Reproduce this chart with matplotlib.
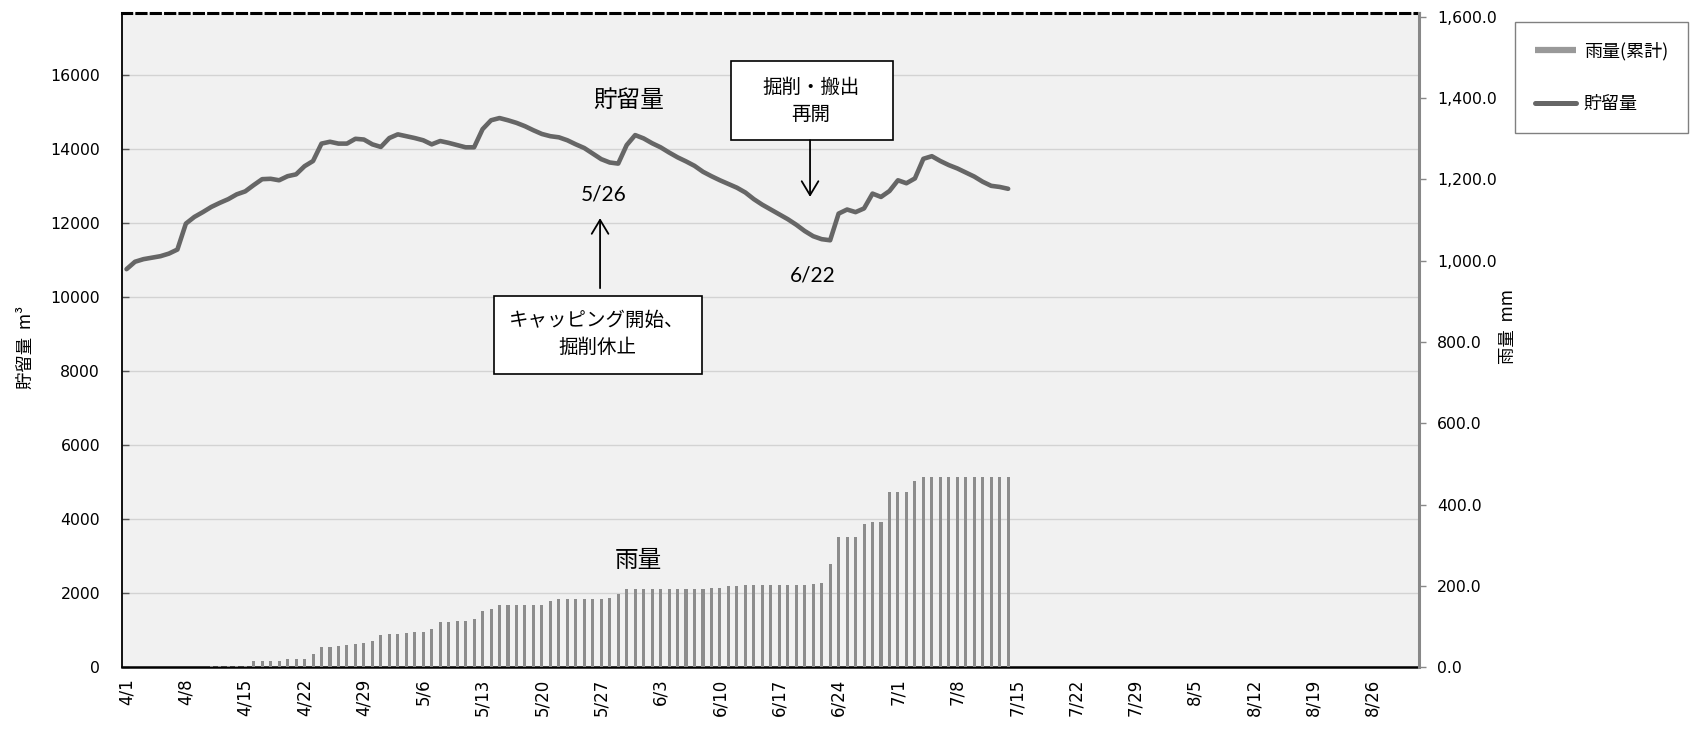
import numpy as np
import matplotlib
matplotlib.use("Agg")
import matplotlib.pyplot as plt
from matplotlib.lines import Line2D
from matplotlib.patches import Rectangle
from matplotlib.ticker import FuncFormatter

plt.rcParams["font.family"] = ["Noto Sans CJK JP", "DejaVu Sans"]

# axis runs 4/1 .. 8/31, one category per day
n_days = 153
tick_labels = ["4/1", "4/8", "4/15", "4/22", "4/29", "5/6", "5/13", "5/20", "5/27",
               "6/3", "6/10", "6/17", "6/24", "7/1", "7/8", "7/15", "7/22", "7/29",
               "8/5", "8/12", "8/19", "8/26"]

# 貯留量 (m3), daily from 4/1
storage = [10750, 10950, 11020, 11060, 11100, 11170, 11280, 11980, 12160, 12290,
           12430, 12540, 12640, 12770, 12850, 13020, 13180, 13190, 13150, 13260,
           13310, 13530, 13670, 14140, 14190, 14140, 14140, 14270, 14250, 14120,
           14050, 14290, 14390, 14340, 14290, 14230, 14120, 14210, 14160, 14100,
           14040, 14040, 14530, 14770, 14830, 14770, 14700, 14610, 14500, 14400,
           14340, 14310, 14230, 14120, 14020, 13870, 13720, 13630, 13600, 14100,
           14370, 14280, 14150, 14040, 13900, 13770, 13660, 13540, 13380, 13260,
           13150, 13050, 12950, 12820, 12640, 12490, 12360, 12230, 12100, 11950,
           11780, 11640, 11560, 11530, 12250, 12360, 12290, 12390, 12790, 12700,
           12860, 13150, 13070, 13200, 13730, 13800, 13670, 13560, 13470, 13360,
           13250, 13110, 13000, 12970, 12920]

# 雨量 累計 (mm), daily from 4/1
rain_cum = [0, 0, 0, 0, 0, 0, 0, 0, 1, 1,
            2, 2, 2.5, 2.5, 2.5, 15, 15, 15, 15, 20,
            20, 20, 33, 51, 51, 52.5, 55, 57.5, 59, 64,
            79, 82, 82, 84.5, 86, 86, 94, 111, 112.5, 114,
            114, 118, 138, 143.5, 153.5, 153.5, 153.5, 153.5, 153.5, 153.5,
            164, 168, 168, 168, 168, 168, 168, 171.5, 180.5, 192,
            192, 192, 192, 192, 192, 192, 192, 192, 192, 195,
            195, 200, 200, 201.5, 201.5, 201.5, 201.5, 201.5, 201.5, 201.5,
            201.5, 205, 206.5, 255, 320, 320, 320, 352, 356.5, 356.5,
            430.5, 430.5, 430.5, 457.5, 467, 467, 467, 467, 467, 467,
            467, 467, 467, 469, 469]

bar_color = "#8c8c8c"
line_color = "#666666"

fig = plt.figure(figsize=(16.95, 7.31), dpi=100)
ax1 = fig.add_axes([0.07215, 0.08714, 0.76519, 0.89576])
ax2 = ax1.twinx()
ax1.set_facecolor("#f1f1f1")
ax2.patch.set_visible(False)

ax2.bar(np.arange(len(rain_cum)), rain_cum, width=0.36, color=bar_color, zorder=2)
ax1.plot(np.arange(len(storage)), storage, color=line_color, lw=3.3,
         solid_joinstyle="round", solid_capstyle="round", zorder=3)

ax1.set_xlim(-0.5, n_days - 0.5)
ax1.set_ylim(0, 17680)
ax2.set_ylim(0, 1610)

ax1.set_xticks(np.arange(len(tick_labels)) * 7)
ax1.set_xticklabels(tick_labels, rotation=90, family="DejaVu Sans", fontsize=12)
ax1.set_yticks(np.arange(0, 16001, 2000))
ax1.set_yticklabels([str(v) for v in range(0, 16001, 2000)], family="DejaVu Sans", fontsize=11.3)
ax2.set_yticks(np.arange(0, 1601, 200))
ax2.yaxis.set_major_formatter(FuncFormatter(lambda v, p: f"{v:,.1f}"))
for lab in ax2.get_yticklabels():
    lab.set_family("DejaVu Sans")
    lab.set_fontsize(11.3)

ax1.yaxis.grid(True, color="#d3d3d3", lw=1.0)
ax1.set_axisbelow(True)

ax1.tick_params(axis="x", length=0, pad=8)
ax1.tick_params(axis="y", direction="in", length=5, width=1, color="#555555", pad=16)
ax2.tick_params(axis="y", direction="out", length=5, width=1, color="#888888", pad=8,
                labelsize=11.3)

ax1.spines["left"].set_color("black")
ax1.spines["left"].set_linewidth(1.3)
ax1.spines["bottom"].set_color("black")
ax1.spines["bottom"].set_linewidth(1.8)
ax1.spines["right"].set_visible(False)
ax1.spines["top"].set_color("black")
ax1.spines["top"].set_linewidth(2.2)
ax1.spines["top"].set_linestyle((0, (3, 1.7)))
for s in ["left", "bottom", "top"]:
    ax2.spines[s].set_visible(False)
ax2.spines["right"].set_color("#888888")
ax2.spines["right"].set_linewidth(2.2)

# axis titles
fig.text(0.0155, 0.525, "貯留量  m³", rotation=90, ha="center", va="center", fontsize=12.5)
fig.text(0.8897, 0.553, "雨量  mm", rotation=90, ha="center", va="center", fontsize=12.5)

# series labels
ax1.text(59.2, 15316, "貯留量", ha="center", va="center", fontsize=17)
ax1.text(60.4, 2877, "雨量", ha="center", va="center", fontsize=17)
ax1.text(56.3, 12753, "5/26", ha="center", va="center", fontsize=15, family="Lato")
ax1.text(80.9, 10570, "6/22", ha="center", va="center", fontsize=15, family="Lato")

# callout boxes
ax1.add_patch(Rectangle((43.35, 7916), 67.92 - 43.35, 10030 - 7916, fc="white",
                        ec="black", lw=1.2, zorder=4))
ax1.text(55.5, 8996, "キャッピング開始、\n掘削休止", ha="center", va="center",
         fontsize=14, linespacing=1.42, zorder=5)
ax1.add_patch(Rectangle((71.28, 14232), 90.39 - 71.28, 16364 - 14232, fc="white",
                        ec="black", lw=1.2, zorder=4))
ax1.text(80.7, 15287, "掘削・搬出\n再開", ha="center", va="center",
         fontsize=14, linespacing=1.35, zorder=5)

arrow = dict(arrowstyle="->, head_length=0.5, head_width=0.3", lw=1.3, color="black",
             mutation_scale=20, shrinkA=0, shrinkB=0)
ax1.annotate("", xy=(55.86, 12127), xytext=(55.86, 10237), arrowprops=arrow, zorder=5)
ax1.annotate("", xy=(80.63, 12702), xytext=(80.63, 14232), arrowprops=arrow, zorder=5)

# legend
handles = [Line2D([], [], color="#999999", lw=4.5, solid_capstyle="butt"),
           Line2D([], [], color=line_color, lw=3.6, solid_capstyle="round")]
leg = fig.legend(handles, ["雨量(累計)", "貯留量"], loc="upper right",
                 bbox_to_anchor=(1687.7 / 1695, 1 - 22.3 / 731), fontsize=13,
                 frameon=True, fancybox=False, edgecolor="#808080", framealpha=1,
                 borderpad=1.1, labelspacing=1.9, handlelength=2.3, handletextpad=0.4,
                 borderaxespad=0)
leg.get_frame().set_linewidth(1.0)

fig.savefig("out.png", dpi=100)
